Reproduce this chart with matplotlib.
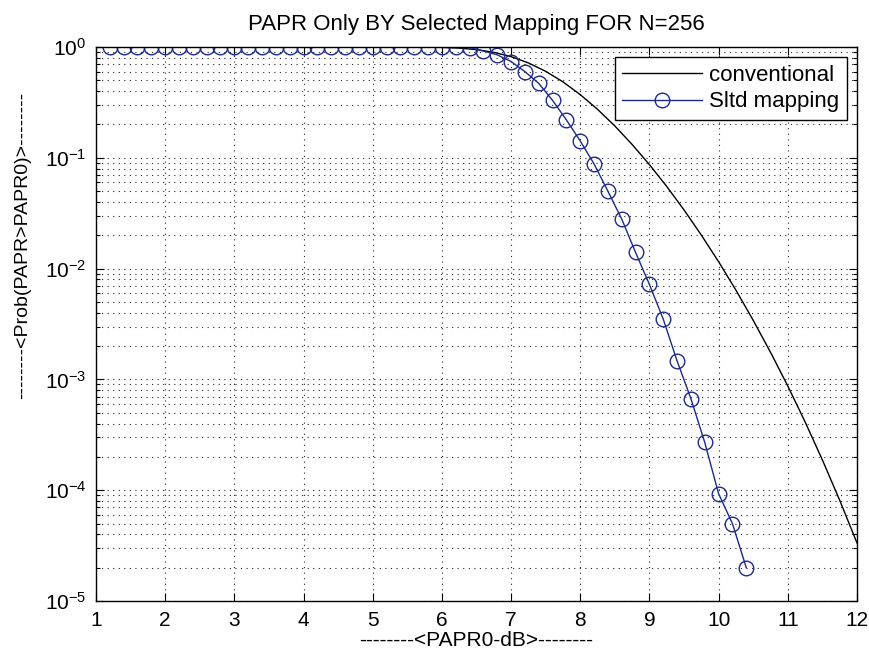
import numpy as np
import matplotlib
matplotlib.use('Agg')
import matplotlib.pyplot as plt
from matplotlib.ticker import LogLocator, NullFormatter, FixedLocator

plt.rcParams['font.family'] = ['Liberation Sans', 'DejaVu Sans']

# conventional OFDM curve
conv_x = [1.0, 5.0, 5.5, 5.75, 6.0, 6.25, 6.5, 6.75, 7.0, 7.25, 7.5, 7.75, 8.0, 8.25, 8.5,
          8.75, 9.0, 9.25, 9.5, 9.75, 10.0, 10.25, 10.5, 10.75, 11.0, 11.25, 11.5, 11.75, 12.0]
conv_y = [1.0, 1.0, 0.9994, 0.9976, 0.992, 0.978, 0.948, 0.896, 0.819, 0.719, 0.604, 0.485,
          0.372, 0.274, 0.194, 0.132, 0.0869, 0.0552, 0.0339, 0.0201, 0.01155, 6.40e-3,
          3.42e-3, 1.76e-3, 8.73e-4, 4.14e-4, 1.88e-4, 8.13e-5, 3.35e-5]

# selected mapping markers
slm_x = np.round(np.arange(1.2, 10.41, 0.2), 1)
slm_y = [1.0] * 26 + [0.99, 0.92, 0.85, 0.74, 0.60, 0.47, 0.33, 0.22, 0.142, 0.088, 0.050,
                      0.028, 0.014, 0.0072, 0.0035, 0.00147, 6.7e-4, 2.7e-4, 9.3e-5, 5.0e-5, 2.0e-5]

x_ticks = [1, 2, 3, 4, 5, 6, 7, 8, 9, 10, 11, 12]

fig = plt.figure(figsize=(8.7, 6.54), dpi=100)
ax = fig.add_axes([0.1103, 0.0810, 0.8747, 0.8471])

ax.semilogy(conv_x, conv_y, color='black', lw=1.0, label='conventional')
ax.semilogy(slm_x, slm_y, color='#1c2a8c', lw=1.0, marker='o', markersize=10.5,
            markerfacecolor='none', markeredgewidth=1.0, label='Sltd mapping')

# axes limits and ticks
ax.set_xlim(1, 12)
ax.set_ylim(1e-5, 1)
ax.xaxis.set_major_locator(FixedLocator(x_ticks))
ax.yaxis.set_major_locator(LogLocator(base=10, numticks=10))
ax.yaxis.set_minor_locator(LogLocator(base=10, subs=np.arange(2, 10), numticks=10))
ax.yaxis.set_minor_formatter(NullFormatter())
ax.tick_params(which='both', direction='in', top=True, right=True, labelsize=15, width=0.8)
ax.tick_params(which='major', length=6, pad=7)
ax.tick_params(which='minor', length=3)

# MATLAB style dotted grid
ax.grid(True, which='major', axis='both', color='0.15', linestyle=(0, (1, 4)), lw=0.8)
ax.grid(True, which='minor', axis='y', color='0.15', linestyle=(0, (1, 4)), lw=0.8)

for s in ax.spines.values():
    s.set_linewidth(1.0)

ax.set_title('PAPR Only BY Selected Mapping FOR N=256', fontsize=16, pad=12)
ax.set_xlabel('--------<PAPR0-dB>--------', fontsize=15)
ax.set_ylabel('--------<Prob(PAPR>PAPR0)>--------', fontsize=14)
ax.xaxis.set_label_coords(0.5, -0.071)
ax.xaxis.label.set_va('center')
ax.yaxis.set_label_coords(-0.097, 0.641)
ax.yaxis.label.set_va('center')

leg = ax.legend(loc='upper right', fontsize=16, handlelength=3.6, handletextpad=0.3,
                borderaxespad=0.45, fancybox=False, framealpha=1, edgecolor='black',
                borderpad=0.35, labelspacing=0.25)
leg.get_frame().set_linewidth(1.0)

plt.savefig('out.png', dpi=100)
